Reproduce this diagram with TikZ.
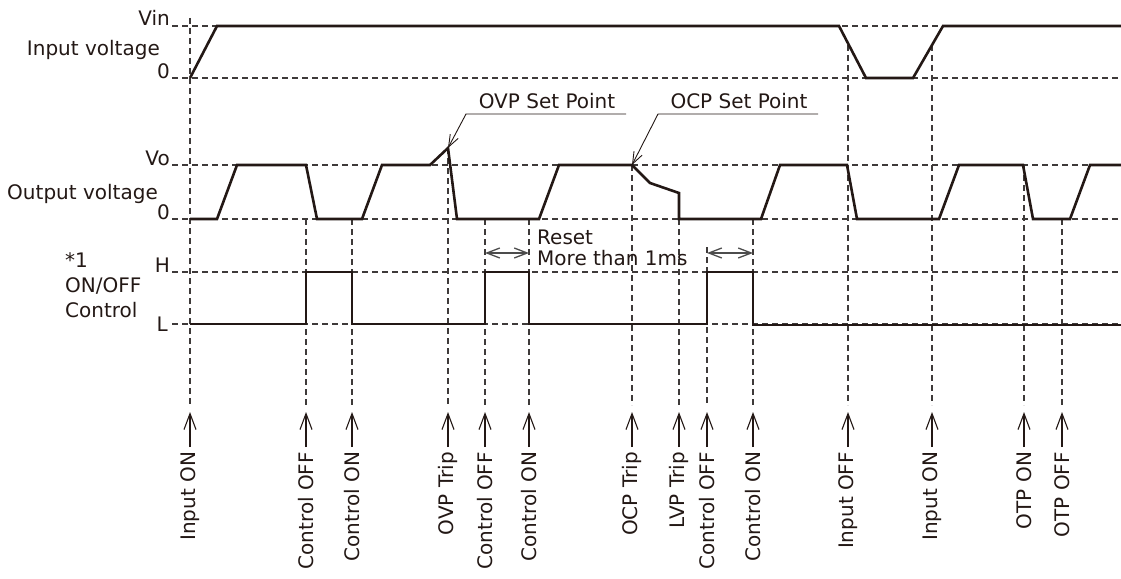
\documentclass[tikz,border=0pt]{standalone}
\usepackage{fontspec}
\setmainfont{DejaVu Sans}
\usepackage{tikz}
\usetikzlibrary{arrows.meta, positioning}
\definecolor{ink}{HTML}{231815}
\definecolor{guidegray}{HTML}{3E3A39}

\begin{document}
\begin{tikzpicture}[
    x=1pt, y=-1pt,
    every node/.style={text=ink, inner sep=0pt, font=\fontsize{20}{24}\selectfont},
    wave/.style={draw=ink, line width=2.6pt, line join=miter},
    guide/.style={draw=guidegray, line width=1.1pt, dash pattern=on 6pt off 4pt},
    level/.style={anchor=base east},
    event/.style={rotate=90, anchor=east, outer sep=5pt},
    evarrow/.style={draw=ink, line width=1.1pt, -{Straight Barb[length=16pt, width=12pt]}},
    setline/.style={draw=ink, line width=0.9pt, -{Straight Barb[length=12pt, width=9pt]}},
    resetarrow/.style={draw=gray!60!black, line width=1.3pt, {Straight Barb[length=13pt, width=10pt]}-{Straight Barb[length=13pt, width=10pt]}}
]
\useasboundingbox (0,0) rectangle (1121,578);

% Level guides
\draw[guide] (172,26) -- (1121,26);
\draw[guide] (172,78) -- (1121,78);
\draw[guide] (172,165) -- (1121,165);
\draw[guide] (172,219) -- (1121,219);
\draw[guide] (172,272) -- (1121,272);
\draw[guide] (172,324) -- (1121,324);

% Event guides
\draw[guide] (190,18) -- (190,405);
\draw[guide] (306,219) -- (306,405);
\draw[guide] (352,219) -- (352,405);
\draw[guide] (448,148) -- (448,405);
\draw[guide] (485,219) -- (485,405);
\draw[guide] (529,219) -- (529,405);
\draw[guide] (632,165) -- (632,405);
\draw[guide] (679,219) -- (679,405);
\draw[guide] (707,247) -- (707,405);
\draw[guide] (753,219) -- (753,405);
\draw[guide] (848,45) -- (848,405);
\draw[guide] (932,45) -- (932,405);
\draw[guide] (1024,165) -- (1024,405);
\draw[guide] (1062,219) -- (1062,405);

% Left: signal names and levels
\node[level] (vin) at (170,26) {Vin};
\node[level] (vinzero) at (170,78) {0};
\node[anchor=base east] (inlabel) at (160,56) {Input voltage};
\node[level] (vo) at (170,165) {Vo};
\node[level] (vozero) at (170,219) {0};
\node[anchor=base east] (outlabel) at (158,199) {Output voltage};
\node[level] (hlevel) at (170,272) {H};
\node[anchor=east] (llevel) at (168,324) {L};
\node[anchor=base west] (note) at (65,267) {*1};
\node[anchor=base west] (onoff) at (65,292) {ON/OFF};
\node[anchor=base west] (ctlname) at (65,317) {Control};

% Waveforms
\draw[wave] (190,78) -- (217,26) -- (839,26) -- (866,78) -- (913,78) -- (943,26) -- (1121,26);
\draw[wave] (190,219) -- (217,219) -- (237,165) -- (306,165) -- (317,219) -- (362,219)
    -- (382,165) -- (430,165) -- (448,148) -- (457,219) -- (539,219) -- (559,165)
    -- (632,165) -- (650,183) -- (679,193) -- (679,219) -- (761,219) -- (780,165)
    -- (847,165) -- (857,219) -- (939,219) -- (959,165) -- (1023,165) -- (1033,219)
    -- (1070,219) -- (1090,165) -- (1121,165);
\draw[wave] (190,324) -- (306,324) -- (306,272) -- (352,272) -- (352,324) -- (485,324)
    -- (485,272) -- (529,272) -- (529,324) -- (707,324) -- (707,272) -- (753,272)
    -- (753,325) -- (1121,325);

% Set points
\node[anchor=base] (ovp) at (547,108) {OVP Set Point};
\coordinate (ovpend) at (626,114);
\coordinate (ovpbend) at (466,114);
\coordinate (ovppeak) at (448,148);
\draw[setline] (ovpend) -- (ovpbend) -- (ovppeak);
\node[anchor=base] (ocp) at (739,108) {OCP Set Point};
\coordinate (ocpend) at (818,114);
\coordinate (ocpbend) at (658,114);
\coordinate (ocppeak) at (632,165);
\draw[setline] (ocpend) -- (ocpbend) -- (ocppeak);

% Reset time
\node[anchor=base west] (reset) at (537,244) {Reset};
\node[anchor=base west] (resettime) at (537,265) {More than 1ms};
\coordinate (rsa) at (485,253);
\coordinate (rsb) at (529,253);
\coordinate (rsc) at (707,253);
\coordinate (rsd) at (753,253);
\draw[resetarrow] (rsa) -- (rsb);
\draw[resetarrow] (rsc) -- (rsd);

% Events
\coordinate (inon1tip) at (190,412);
\coordinate (ctloff1tip) at (306,412);
\coordinate (ctlon1tip) at (352,412);
\coordinate (ovptriptip) at (448,412);
\coordinate (ctloff2tip) at (485,412);
\coordinate (ctlon2tip) at (529,412);
\coordinate (ocptriptip) at (632,412);
\coordinate (lvptriptip) at (679,412);
\coordinate (ctloff3tip) at (707,412);
\coordinate (ctlon3tip) at (753,412);
\coordinate (inofftip) at (848,412);
\coordinate (inon2tip) at (932,412);
\coordinate (otpontip) at (1024,412);
\coordinate (otpofftip) at (1062,412);

\node[event] (inon1) at (190,447) {Input ON};
\node[event] (ctloff1) at (306,447) {Control OFF};
\node[event] (ctlon1) at (352,447) {Control ON};
\node[event] (ovptrip) at (448,447) {OVP Trip};
\node[event] (ctloff2) at (485,447) {Control OFF};
\node[event] (ctlon2) at (529,447) {Control ON};
\node[event] (ocptrip) at (632,447) {OCP Trip};
\node[event] (lvptrip) at (679,447) {LVP Trip};
\node[event] (ctloff3) at (707,447) {Control OFF};
\node[event] (ctlon3) at (753,447) {Control ON};
\node[event] (inoff) at (848,447) {Input OFF};
\node[event] (inon2) at (932,447) {Input ON};
\node[event] (otpon) at (1024,447) {OTP ON};
\node[event] (otpoff) at (1062,447) {OTP OFF};

\draw[evarrow] (inon1) -- (inon1tip);
\draw[evarrow] (ctloff1) -- (ctloff1tip);
\draw[evarrow] (ctlon1) -- (ctlon1tip);
\draw[evarrow] (ovptrip) -- (ovptriptip);
\draw[evarrow] (ctloff2) -- (ctloff2tip);
\draw[evarrow] (ctlon2) -- (ctlon2tip);
\draw[evarrow] (ocptrip) -- (ocptriptip);
\draw[evarrow] (lvptrip) -- (lvptriptip);
\draw[evarrow] (ctloff3) -- (ctloff3tip);
\draw[evarrow] (ctlon3) -- (ctlon3tip);
\draw[evarrow] (inoff) -- (inofftip);
\draw[evarrow] (inon2) -- (inon2tip);
\draw[evarrow] (otpon) -- (otpontip);
\draw[evarrow] (otpoff) -- (otpofftip);

\end{tikzpicture}
\end{document}
